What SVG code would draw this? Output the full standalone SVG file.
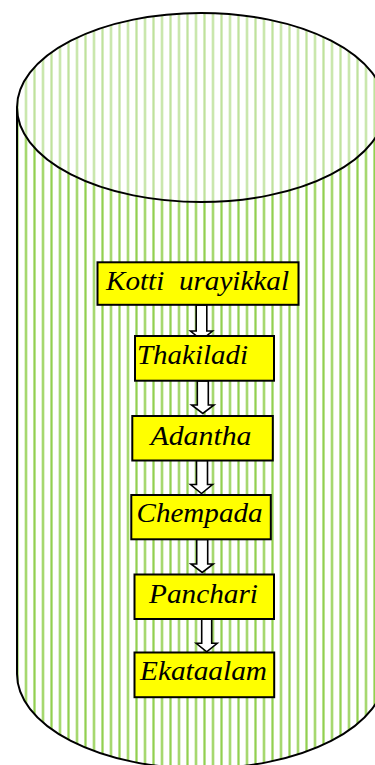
<svg xmlns="http://www.w3.org/2000/svg" width="375" height="765" viewBox="0 0 375 765">
<style>
.cyl{stroke:#000;stroke-width:2}
.box{fill:#ffff00;stroke:#000;stroke-width:2}
.lbl{font-family:"Liberation Serif","Times New Roman",serif;font-style:italic;font-size:28px;fill:#000}
.arr{fill:#fff;stroke:#000;stroke-width:1.6;stroke-linejoin:miter}
</style>
<defs>
<pattern id="stripes" patternUnits="userSpaceOnUse" x="-3.75" y="0" width="8.5" height="20">
<rect x="0" y="0" width="8.5" height="20" fill="#fff"/>
<line x1="4.25" y1="0" x2="4.25" y2="20" stroke="#92d050" stroke-width="2.2"/>
</pattern>
<pattern id="stripesLight" patternUnits="userSpaceOnUse" x="-3.75" y="0" width="8.5" height="20">
<rect x="0" y="0" width="8.5" height="20" fill="#fff"/>
<line x1="4.25" y1="0" x2="4.25" y2="20" stroke="#bfe29c" stroke-width="2.2"/>
</pattern>
</defs>
<rect width="375" height="765" fill="#fff"/>
<g id="cylinder">
<path class="cyl" fill="url(#stripes)" d="M17,107.5 L17,674 A184,94.5 0 0 0 385,674 L385,107.5 Z"/>
<ellipse class="cyl" fill="url(#stripesLight)" cx="201" cy="107.5" rx="184" ry="94.5"/>
</g>
<g id="connectors">
<path class="arr" d="M196.2,305 L206.8,305 L206.8,331 L212.5,331 L201.5,340 L190.5,331 L196.2,331 Z"/>
<path class="arr" d="M197.3,381 L208.3,381 L208.3,405 L214,405 L202.8,413.5 L191.6,405 L197.3,405 Z"/>
<path class="arr" d="M196.5,460.5 L207.5,460.5 L207.5,484.5 L212.5,484.5 L201.5,493.5 L190.5,484.5 L196.5,484.5 Z"/>
<path class="arr" d="M196.7,539.5 L207.7,539.5 L207.7,564 L213.3,564 L202.2,572.5 L191,564 L196.7,564 Z"/>
<path class="arr" d="M201.7,619 L211.7,619 L211.7,643.3 L217.2,643.3 L206.7,651.8 L196.2,643.3 L201.7,643.3 Z"/>
</g>
<g id="node1">
<rect class="box" x="97.5" y="262.3" width="201" height="42.5"/>
<text class="lbl" x="106" y="289.5" xml:space="preserve" textLength="183" lengthAdjust="spacingAndGlyphs">Kotti  urayikkal</text>
</g>
<g id="node2">
<rect class="box" x="135" y="336" width="139" height="44.7"/>
<text class="lbl" x="137" y="363.5" textLength="111" lengthAdjust="spacingAndGlyphs">Thakiladi</text>
</g>
<g id="node3">
<rect class="box" x="132.3" y="416" width="140.5" height="44.5"/>
<text class="lbl" x="150.5" y="444.5" textLength="101" lengthAdjust="spacingAndGlyphs">Adantha</text>
</g>
<g id="node4">
<rect class="box" x="131.3" y="495" width="139.5" height="44.3"/>
<text class="lbl" x="136.5" y="522.3" textLength="126" lengthAdjust="spacingAndGlyphs">Chempada</text>
</g>
<g id="node5">
<rect class="box" x="134.5" y="574.5" width="139.5" height="44.5"/>
<text class="lbl" x="149" y="603" textLength="109" lengthAdjust="spacingAndGlyphs">Panchari</text>
</g>
<g id="node6">
<rect class="box" x="134.5" y="652.5" width="139.7" height="44.7"/>
<text class="lbl" x="140" y="680.3" textLength="127" lengthAdjust="spacingAndGlyphs">Ekataalam</text>
</g>
</svg>
